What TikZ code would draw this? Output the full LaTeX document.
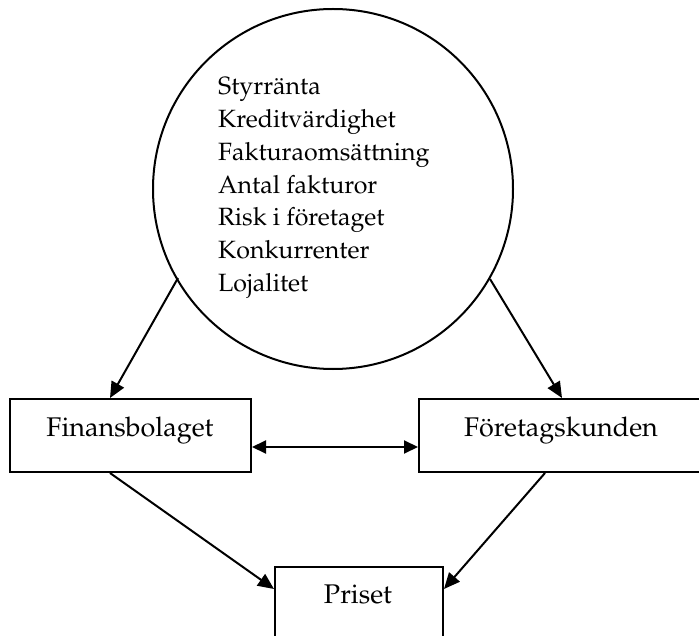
\documentclass[tikz,border=0pt]{standalone}
\usepackage[T1]{fontenc}
\usepackage{mathpazo}
\usetikzlibrary{arrows.meta}

\begin{document}
\begin{tikzpicture}[x=1pt, y=-1pt,
    box/.style={draw, line width=2pt, rectangle, inner sep=0pt},
    label/.style={font=\fontsize{25}{32.7}\selectfont, inner sep=0pt},
    boxlabel/.style={font=\fontsize{27}{32.7}\selectfont, inner sep=0pt},
    arrow/.style={-{Triangle[length=16pt, width=14pt]}, line width=2pt}
]
\clip (0,0) rectangle (699,636);

% Factors
\node[draw, line width=2pt, circle, minimum size=360pt, inner sep=0pt] (factors) at (333,189) {};
\foreach \t [count=\i] in {Styrr\"anta, Kreditv\"ardighet, Fakturaoms\"attning, Antal fakturor, Risk i f\"oretaget, Konkurrenter, Lojalitet} {
    \node[label, anchor=base west] (item\i) at (218, {95+32.7*(\i-1)}) {\t};
}

% Parties
\node[box, minimum width=241pt, minimum height=73pt, anchor=north west] (finans) at (9,398) {};
\node[boxlabel, anchor=base] (finanstext) at (130,436) {Finansbolaget};
\node[box, minimum width=290pt, minimum height=73pt, anchor=north west] (kund) at (418,398) {};
\node[boxlabel, anchor=base] (kundtext) at (561,436) {F\"oretagskunden};

% Price
\node[box, minimum width=168pt, minimum height=90pt, anchor=north west] (priset) at (274,566) {};
\node[boxlabel, anchor=base] (prisettext) at (358,603) {Priset};

% Arrows
\coordinate (c1) at (178,278);
\coordinate (c2) at (490,279);
\draw[arrow] (c1) -- (finans.north west -| 110,0);
\draw[arrow] (c2) -- (kund.north west -| 562,0);
\draw[arrow, {Triangle[length=14pt, width=13pt]}-{Triangle[length=14pt, width=13pt]}] (finans.east |- 0,447) -- (kund.west |- 0,447);
\draw[arrow] (finans.south west -| 110,0) -- (priset.west |- 0,589);
\draw[arrow] (kund.south west -| 545,0) -- (priset.east |- 0,589);
\end{tikzpicture}
\end{document}
